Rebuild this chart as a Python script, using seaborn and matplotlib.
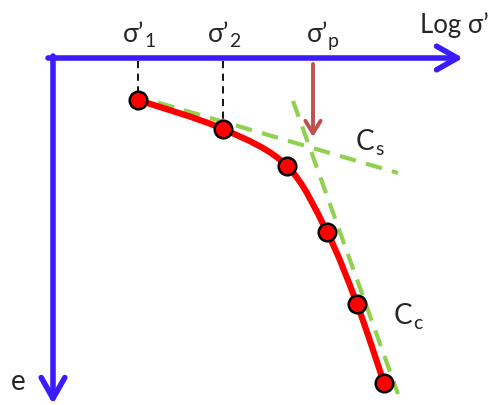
import numpy as np
import matplotlib
matplotlib.use('Agg')
import matplotlib.pyplot as plt
from matplotlib.path import Path
from matplotlib.patches import PathPatch
import seaborn as sns

# schematic e - log(sigma') curve, in drawing units (x right, e grows downward)
log_sigma = [138, 223, 287, 327, 357, 384]
void_ratio = [101, 130, 167, 233, 305, 384]

# tangent lines for Cs and Cc
cs_x = [132, 398]
cs_y = [96, 174]
cc_x = [293, 398]
cc_y = [102, 395]

# stress labels on the top axis
stress_x = [138, 223, 322]
stress_sub = ['1', '2', 'p']
sigma_p_x = 313

blue = '#3a1cff'
red = '#ff0000'
green = '#92d050'
brown = '#c0504d'

sns.set_style('white')
plt.rcParams['font.family'] = ['Lato', 'DejaVu Sans']

fig = plt.figure(figsize=(4.92, 4.06), dpi=100)
ax = fig.add_axes([0, 0, 1, 1])
ax.set_xlim(0, 492)
ax.set_ylim(406, 0)
ax.axis('off')

# axes drawn as arrows
axis_y = 59
axis_x = 53
head = '->,head_length=1.5,head_width=0.85'
ax.annotate('', xy=(463, axis_y), xytext=(48, axis_y),
            arrowprops=dict(arrowstyle=head, color=blue, lw=4,
                            shrinkA=0, shrinkB=0))
ax.annotate('', xy=(axis_x, 405), xytext=(axis_x, axis_y - 2),
            arrowprops=dict(arrowstyle=head, color=blue, lw=4,
                            shrinkA=0, shrinkB=0))

# dashed drop lines to first two points
for i in range(2):
    ax.plot([log_sigma[i], log_sigma[i]], [axis_y + 3, void_ratio[i] - 4],
            color='black', lw=1.3, ls=(0, (4, 3)))

# green tangents
sns.lineplot(x=cs_x, y=cs_y, ax=ax, color=green, lw=3, sort=False,
             linestyle=(0, (4, 2.5)))
sns.lineplot(x=cc_x, y=cc_y, ax=ax, color=green, lw=3, sort=False,
             linestyle=(0, (4, 2.5)))

# smooth red curve through the points (Catmull-Rom as cubic Bezier)
pts = np.column_stack([log_sigma, void_ratio]).astype(float)
ext = np.vstack([pts[0], pts, pts[-1]])
verts = [pts[0]]
codes = [Path.MOVETO]
for i in range(1, len(ext) - 2):
    p0, p1, p2, p3 = ext[i - 1], ext[i], ext[i + 1], ext[i + 2]
    verts += [p1 + (p2 - p0) / 6, p2 - (p3 - p1) / 6, p2]
    codes += [Path.CURVE4] * 3
ax.add_patch(PathPatch(Path(verts, codes), fill=False, edgecolor=red, lw=4.5,
                       capstyle='round', zorder=3))

sns.scatterplot(x=log_sigma, y=void_ratio, ax=ax, s=160, color=red,
                edgecolor='black', linewidth=1.8, zorder=4)

# preconsolidation arrow
ax.annotate('', xy=(sigma_p_x, 138), xytext=(sigma_p_x, 65),
            arrowprops=dict(arrowstyle='->,head_length=0.9,head_width=0.55',
                            color=brown, lw=2.8, shrinkA=0, shrinkB=0))

# labels
for xs, sub in zip(stress_x, stress_sub):
    ax.text(xs - 4, 42, '\u03c3\u2019', fontsize=19, ha='center', va='baseline')
    ax.text(xs + 6, 47, sub, fontsize=14, ha='left', va='baseline')

ax.text(489, 33, 'Log \u03c3\u2019', fontsize=18.5, ha='right', va='baseline')
ax.text(11, 390, 'e', fontsize=20, ha='left', va='baseline')

ax.text(356, 150, 'C', fontsize=20, ha='left', va='baseline')
ax.text(375, 155, 's', fontsize=14, ha='left', va='baseline')
ax.text(394, 324, 'C', fontsize=20, ha='left', va='baseline')
ax.text(413, 329, 'c', fontsize=14, ha='left', va='baseline')

fig.savefig('out.png', dpi=100)
